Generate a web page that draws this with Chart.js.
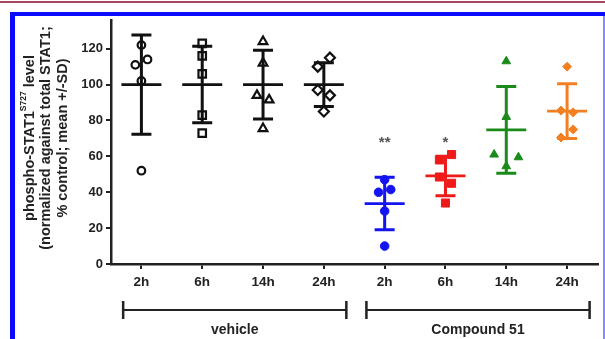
<!DOCTYPE html>
<html>
<head>
<meta charset="utf-8">
<title>phospho-STAT1 S727</title>
<script src="https://cdn.jsdelivr.net/npm/chart.js@4.4.1/dist/chart.umd.min.js"></script>
<style>
  html, body { margin: 0; padding: 0; background: #fff; }
  #wrap { position: relative; width: 605px; height: 339px; overflow: hidden; }
  #chart { position: absolute; left: 0; top: 0; }
  .bar { position: absolute; pointer-events: none; }
</style>
</head>
<body>
<div id="wrap">
  <canvas id="chart" width="605" height="339"></canvas>
  <div class="bar" style="left:0;top:1px;width:605px;height:2px;background:#a8485c"></div>
  <div class="bar" style="left:10px;top:12px;width:595px;height:4px;background:#0a0aff"></div>
  <div class="bar" style="left:10px;top:12px;width:5px;height:327px;background:#0a0aff"></div>
  <div class="bar" style="left:603px;top:16px;width:2px;height:323px;background:#8a8aff"></div>
</div>
<script>
'use strict';

/* ── Data ── */
const timeLabels = ['2h', '6h', '14h', '24h', '2h', '6h', '14h', '24h'];
const yTicks     = [0, 20, 40, 60, 80, 100, 120];

const veh2h  = [122, 111, 114, 102, 52];
const veh6h  = [123, 116, 106, 83, 73];
const veh14h = [124, 112, 94, 91.5, 75.5];
const veh24h = [115, 110, 97, 94, 85];
const cmp2h  = [47, 40, 41.5, 29.5, 10];
const cmp6h  = [61, 58, 48.5, 45, 34];
const cmp14h = [113, 82, 61, 59.5, 54.5];
const cmp24h = [110, 85.5, 84.5, 75, 70.5];

// dot-plot column of each point (-2..2), left/right of the group centre
const veh2hCol  = [0, -1, 1, 0, 0];
const veh6hCol  = [0, 0, 0, 0, 0];
const veh14hCol = [0, 0, -1, 1, 0];
const veh24hCol = [1, -1, -1, 1, 0];
const cmp2hCol  = [0, -1, 1, 0, 0];
const cmp6hCol  = [1, -1, -1, 1, 0];
const cmp14hCol = [0, 0, -2, 2, 0];
const cmp24hCol = [0, -1, 1, 1, -1];

const groupMean = [100, 100, 100, 100, 33.7, 49.1, 74.8, 85.2];
const groupSD   = [27.7, 21.3, 19.2, 12.2, 14.6, 11, 24.2, 15.3];

const sigLabels = ['', '', '', '', '**', '*', '', ''];
const sigLevel  = 65;

const treatments = [
  { name: 'vehicle',     first: 0, last: 3 },
  { name: 'Compound 51', first: 4, last: 7 },
];

/* ── Styles ── */
const groupValues = [veh2h, veh6h, veh14h, veh24h, cmp2h, cmp6h, cmp14h, cmp24h];
const groupCols   = [veh2hCol, veh6hCol, veh14hCol, veh24hCol, cmp2hCol, cmp6hCol, cmp14hCol, cmp24hCol];
const colors      = ['#111', '#111', '#111', '#111', '#1414f0', '#ee1a1a', '#1a8a1a', '#f28022'];
const shapes      = ['circle', 'rect', 'triangle', 'rectRot', 'circle', 'rect', 'triangle', 'rectRot'];
const radii       = [3.8, 5.3, 5, 5, 4.3, 5.7, 5, 4.5];
const COL_STEP    = 0.1;
const INK         = '#222';
const BOLD        = '"Liberation Sans", Arial, sans-serif';

const datasets = groupValues.map((vals, i) => {
  const open = i < 4;
  return {
    data: vals.map((v, k) => ({ x: i + groupCols[i][k] * COL_STEP, y: v })),
    pointStyle: shapes[i],
    pointRadius: radii[i],
    backgroundColor: open ? '#fff' : colors[i],
    borderColor: colors[i],
    pointBorderWidth: open ? 2.2 : 1,
    showLine: false,
  };
});

/* ── Mean / SD bars, significance stars, group brackets, y title ── */
const decorations = {
  id: 'decorations',
  afterDatasetsDraw(chart) {
    const { ctx, chartArea, scales: { x, y } } = chart;
    ctx.save();
    ctx.lineCap = 'butt';
    groupMean.forEach((m, i) => {
      const cx = x.getPixelForValue(i);
      const ym = y.getPixelForValue(m);
      const yt = y.getPixelForValue(m + groupSD[i]);
      const yb = y.getPixelForValue(m - groupSD[i]);
      ctx.strokeStyle = colors[i];
      ctx.lineWidth = 3;
      ctx.beginPath();
      ctx.moveTo(cx, yt); ctx.lineTo(cx, yb);
      ctx.moveTo(cx - 10, yt); ctx.lineTo(cx + 10, yt);
      ctx.moveTo(cx - 10, yb); ctx.lineTo(cx + 10, yb);
      ctx.stroke();
      ctx.lineWidth = 2.8;
      ctx.beginPath();
      ctx.moveTo(cx - 20, ym); ctx.lineTo(cx + 20, ym);
      ctx.stroke();
    });

    // significance marks
    ctx.fillStyle = '#555';
    ctx.font = `bold 15px ${BOLD}`;
    ctx.textAlign = 'center';
    ctx.textBaseline = 'alphabetic';
    sigLabels.forEach((s, i) => {
      if (s) ctx.fillText(s, x.getPixelForValue(i), y.getPixelForValue(sigLevel));
    });

    // treatment brackets
    const by = chartArea.bottom + 46;
    ctx.strokeStyle = INK;
    ctx.fillStyle = INK;
    ctx.font = `bold 14px ${BOLD}`;
    ctx.textBaseline = 'middle';
    treatments.forEach(t => {
      const x0 = x.getPixelForValue(t.first - 0.3);
      const x1 = x.getPixelForValue(t.last + 0.37);
      ctx.lineWidth = 2;
      ctx.beginPath();
      ctx.moveTo(x0, by); ctx.lineTo(x1, by);
      ctx.stroke();
      ctx.lineWidth = 2.5;
      ctx.beginPath();
      ctx.moveTo(x0, by - 9); ctx.lineTo(x0, by + 9);
      ctx.moveTo(x1, by - 9); ctx.lineTo(x1, by + 9);
      ctx.stroke();
      ctx.fillText(t.name, (x0 + x1) / 2, by + 20);
    });

    // rotated y-axis title
    const cy = 138;
    const big = `bold 14.5px ${BOLD}`;
    const sup = `bold 8.5px ${BOLD}`;
    const drawLine = (cx, parts) => {
      ctx.save();
      ctx.translate(cx, cy);
      ctx.rotate(-Math.PI / 2);
      ctx.textAlign = 'left';
      ctx.textBaseline = 'middle';
      const widths = parts.map(p => { ctx.font = p.sup ? sup : big; return ctx.measureText(p.t).width; });
      let px = -widths.reduce((a, b) => a + b, 0) / 2;
      parts.forEach((p, k) => {
        ctx.font = p.sup ? sup : big;
        ctx.fillText(p.t, px, p.sup ? -6 : 0);
        px += widths[k];
      });
      ctx.restore();
    };
    ctx.fillStyle = INK;
    drawLine(30, [{ t: 'phospho-STAT1' }, { t: 'S727', sup: true }, { t: ' level' }]);
    drawLine(46, [{ t: '(normalized against total STAT1;' }]);
    drawLine(63, [{ t: '% control; mean +/-SD)' }]);
    ctx.restore();
  }
};

/* ── Chart ── */
new Chart(document.getElementById('chart'), {
  type: 'scatter',
  data: { datasets },
  options: {
    responsive: false,
    animation: false,
    devicePixelRatio: 1,
    layout: { padding: { top: 20, right: 6, left: 0, bottom: 0 } },
    plugins: { legend: { display: false }, tooltip: { enabled: false } },
    scales: {
      x: {
        type: 'linear',
        min: -0.5,
        max: 7.5,
        afterBuildTicks: s => { s.ticks = timeLabels.map((_, i) => ({ value: i })); },
        afterFit: s => { s.height = 75; },
        border: { color: INK, width: 2.5 },
        grid: { drawOnChartArea: false, drawTicks: true, tickLength: 5, color: INK, lineWidth: 2 },
        ticks: {
          color: INK,
          padding: 5,
          maxRotation: 0,
          font: { family: BOLD, size: 13.5, weight: 'bold' },
          callback: v => timeLabels[v],
        },
      },
      y: {
        min: 0,
        max: 136,
        afterBuildTicks: s => { s.ticks = yTicks.map(v => ({ value: v })); },
        afterFit: s => { s.width = 111; },
        border: { color: INK, width: 2.5 },
        grid: { drawOnChartArea: false, drawTicks: true, tickLength: 5, color: INK, lineWidth: 2 },
        ticks: {
          color: INK,
          padding: 3,
          font: { family: BOLD, size: 13, weight: 'bold' },
        },
      },
    },
  },
  plugins: [decorations],
});
</script>
</body>
</html>
